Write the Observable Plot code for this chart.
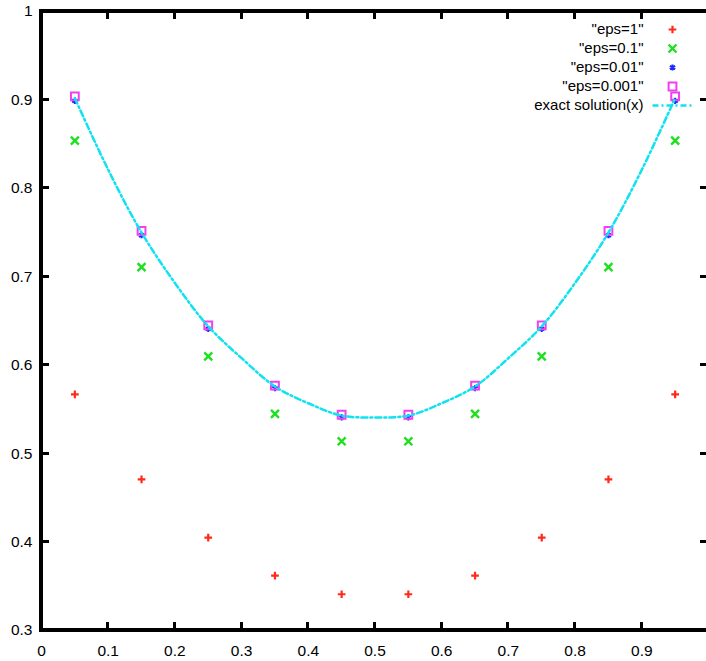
<!DOCTYPE html>
<html><head><meta charset="utf-8">
<script src="https://cdn.jsdelivr.net/npm/d3@7"></script>
<script src="https://cdn.jsdelivr.net/npm/@observablehq/plot@0.6"></script>
<style>html,body{margin:0;padding:0;background:#fff;overflow:hidden}
#wrap{position:relative;width:708px;height:661px;overflow:hidden}
#wrap svg{position:absolute;left:0;top:0;max-width:none !important;font-family:"Liberation Sans",Arial,sans-serif;font-size:15.5px}
.fr{position:absolute;box-sizing:border-box;border:4px solid #000;pointer-events:none}
.tk{position:absolute;background:#000;pointer-events:none}</style>
</head><body><div id="wrap"></div>
<script>
const xs = [0.05,0.15,0.25,0.35,0.45,0.55,0.65,0.75,0.85,0.95];
const eps1 = [0.567,0.471,0.405,0.362,0.341,0.341,0.362,0.405,0.471,0.567];
const eps01 = [0.854,0.711,0.610,0.545,0.514,0.514,0.545,0.610,0.711,0.854];
const eps001 = [0.899,0.747,0.641,0.574,0.541,0.541,0.574,0.641,0.747,0.899];
const eps0001 = [0.904,0.752,0.645,0.577,0.544,0.544,0.577,0.645,0.752,0.904];
const exactX = [0.05,0.1,0.15,0.2,0.25,0.3,0.35,0.4,0.45,0.5,0.55,0.6,0.65,0.7,0.75,0.8,0.85,0.9,0.95];
const exactY = [0.902,0.821,0.750,0.693,0.644,0.608,0.576,0.557,0.543,0.541,0.543,0.557,0.576,0.608,0.644,0.693,0.750,0.821,0.902];
const xTicks = [0,0.1,0.2,0.3,0.4,0.5,0.6,0.7,0.8,0.9];
const yTicks = [0.3,0.4,0.5,0.6,0.7,0.8,0.9,1];
const legendLabels = ['"eps=1"','"eps=0.1"','"eps=0.01"','"eps=0.001"','exact solution(x)'];

const colors = {red:"#ff2a1a", green:"#1ee01e", blue:"#1a2cff", magenta:"#f040f0", cyan:"#10e2f0"};
const pts = (ys) => xs.map((x,i)=>({x, y: ys[i]}));
const exact = exactX.map((x,i)=>({x, y: exactY[i]}));

const W = 708, H = 661, mL = 41, mR = 0, mT = 11, mB = 31;
const tl = 8;
const lineSym = {draw(ctx){ ctx.moveTo(-20,0); ctx.lineTo(20,0); }};
const symSpecs = [
  {symbol:"plus", r:2.6, stroke:colors.red, strokeWidth:2.2},
  {symbol:"times", r:3.7, stroke:colors.green, strokeWidth:2.4},
  {symbol:"asterisk", r:2.9, stroke:colors.blue, strokeWidth:2},
  {symbol:"square", r:4.4, stroke:colors.magenta, strokeWidth:2, fill:"none"},
  {symbol:lineSym, r:1, stroke:colors.cyan, strokeWidth:2.5, strokeDasharray:"6,3,2,3"}
];
const legendMarks = [];
legendLabels.forEach((lab,i)=>{
  legendMarks.push(Plot.text([lab], {text:d=>d, frameAnchor:"top-right", dx:-65, dy:18+19*i, textAnchor:"end", lineAnchor:"middle", fill:"black", fontSize:15}));
  legendMarks.push(Plot.dot([lab], {frameAnchor:"top-right", dx:-36, dy:18+19*i, ...symSpecs[i]}));
});

const chart = Plot.plot({
  width: W, height: H,
  marginLeft: mL, marginRight: mR, marginTop: mT, marginBottom: mB,
  x: {domain: [0, 1]},
  y: {domain: [0.3, 1]},
  marks: [
    Plot.dot(pts(eps1), {x:"x", y:"y", ...symSpecs[0]}),
    Plot.dot(pts(eps01), {x:"x", y:"y", ...symSpecs[1]}),
    Plot.dot(pts(eps001), {x:"x", y:"y", ...symSpecs[2]}),
    Plot.dot(pts(eps0001), {x:"x", y:"y", ...symSpecs[3]}),
    Plot.line(exact, {x:"x", y:"y", curve:"catmull-rom", stroke:colors.cyan, strokeWidth:2.5, strokeDasharray:"6,3,2,3"}),
    ...legendMarks,
    Plot.axisX(xTicks, {tickSize:0, tickPadding:14, tickFormat:d=>String(d), fill:"black", label:null}),
    Plot.axisY(yTicks, {tickSize:0, tickPadding:9, tickFormat:d=>String(d), fill:"black", label:null})
  ]
});
const wrap = document.getElementById("wrap");
wrap.appendChild(chart);

// frame and inward ticks (gnuplot border), positioned with the chart's own scales
const sx = chart.scale("x"), sy = chart.scale("y");
const L = sx.apply(0), R = sx.apply(1), T = sy.apply(1), B = sy.apply(0.3);
function add(cls, left, top, w, h) {
  const d = document.createElement("div");
  d.className = cls;
  Object.assign(d.style, {left: left + "px", top: top + "px", width: w + "px", height: h + "px"});
  wrap.appendChild(d);
}
add("fr", L - 2, T - 2, R - L + 4, B - T + 4);
xTicks.slice(1).forEach(v => {
  const x = sx.apply(v);
  add("tk", x - 1.5, B - tl, 3, tl);
  add("tk", x - 1.5, T, 3, tl);
});
yTicks.slice(1, -1).forEach(v => {
  const y = sy.apply(v);
  add("tk", L, y - 1.5, tl, 3);
  add("tk", R - tl, y - 1.5, tl, 3);
});
</script>
</body></html>
